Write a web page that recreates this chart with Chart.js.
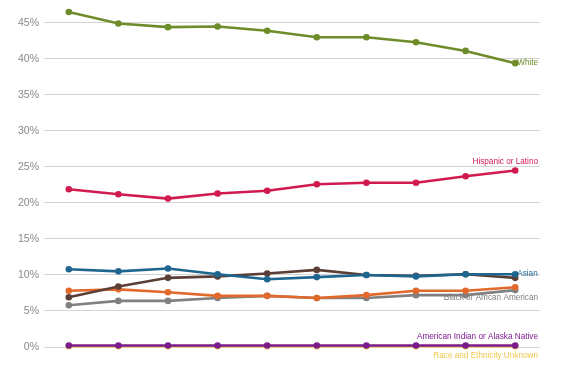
<!DOCTYPE html>
<html>
<head>
<meta charset="utf-8">
<script src="https://cdn.jsdelivr.net/npm/chart.js@4"></script>
<style>
  html, body { margin: 0; padding: 0; background: #fff; }
  #wrap { width: 568px; height: 365px; }
</style>
</head>
<body>
<div id="wrap"><canvas id="raceChart"></canvas></div>
<script>
// Ten yearly points, no axis labels shown
const years = ['2005', '2006', '2007', '2008', '2009', '2010', '2011', '2012', '2013', '2014'];

const white = [46.5, 44.9, 44.4, 44.5, 43.9, 43.0, 43.0, 42.3, 41.1, 39.4];
const hispanic = [21.9, 21.2, 20.6, 21.3, 21.7, 22.6, 22.8, 22.8, 23.7, 24.5];
const asian = [10.8, 10.5, 10.9, 10.1, 9.4, 9.7, 10.0, 9.8, 10.1, 10.1];
const twoOrMore = [6.9, 8.4, 9.6, 9.8, 10.2, 10.7, 10.0, 9.9, 10.1, 9.6];
const nonresident = [7.8, 8.0, 7.6, 7.1, 7.1, 6.8, 7.2, 7.8, 7.8, 8.3];
const black = [5.8, 6.4, 6.4, 6.8, 7.1, 6.8, 6.8, 7.2, 7.2, 7.9];
const amIndian = [0.2, 0.2, 0.2, 0.2, 0.2, 0.2, 0.2, 0.2, 0.2, 0.2];
const unknown = [0.1, 0.1, 0.1, 0.1, 0.1, 0.1, 0.1, 0.1, 0.1, 0.1];

function line(label, data, color, endLabel) {
    return {
        label: label,
        data: data,
        borderColor: color,
        backgroundColor: color,
        borderWidth: 2.6,
        pointRadius: 2,
        pointHoverRadius: 2,
        tension: 0,
        clip: false,
        endLabel: endLabel
    };
}

// end-of-line captions
const endLabels = {
    id: 'endLabels',
    afterDatasetsDraw(chart) {
        const ctx = chart.ctx;
        const right = chart.chartArea.right;
        ctx.save();
        ctx.font = '8.2px "Liberation Sans", Arial, sans-serif';
        ctx.textBaseline = 'middle';
        chart.data.datasets.forEach((ds, i) => {
            const el = ds.endLabel;
            if (!el) return;
            const pts = chart.getDatasetMeta(i).data;
            const last = pts[pts.length - 1];
            ctx.fillStyle = el.color || ds.borderColor;
            if (el.align === 'left') {
                ctx.textAlign = 'left';
                ctx.fillText(ds.label, last.x + 2, last.y + el.dy);
            } else {
                ctx.textAlign = 'right';
                ctx.fillText(ds.label, right - 2, last.y + el.dy);
            }
        });
        ctx.restore();
    }
};

// lower index draws on top
new Chart(document.getElementById('raceChart'), {
    type: 'line',
    data: {
        labels: years,
        datasets: [
            line('White', white, '#6f8c2a', { align: 'left', dy: 0 }),
            line('Hispanic or Latino', hispanic, '#d01a50', { dy: -9 }),
            line('Asian', asian, '#1e6690', { align: 'left', dy: 0 }),
            line('Two or More Races', twoOrMore, '#5b3f37', null),
            line('Nonresident Alien', nonresident, '#e2692c', null),
            line('Black or African American', black, '#808080', { dy: 8 }),
            line('American Indian or Alaska Native', amIndian, '#7b1c8c', { dy: -9 }),
            line('Race and Ethnicity Unknown', unknown, '#f2c84b', { dy: 9 })
        ]
    },
    options: {
        responsive: true,
        maintainAspectRatio: false,
        animation: false,
        layout: { padding: { top: 0, right: 28, bottom: 10, left: 0 } },
        plugins: {
            legend: { display: false },
            tooltip: { enabled: false }
        },
        scales: {
            x: {
                offset: true,
                grid: { display: false },
                border: { display: false },
                ticks: { display: false }
            },
            y: {
                min: 0,
                max: 46.6,
                afterFit(scale) { scale.width = 44; },
                afterBuildTicks(scale) {
                    scale.ticks = scale.ticks.filter(t => t.value % 5 === 0);
                },
                grid: { color: '#d4d4d4', drawTicks: false, lineWidth: 1 },
                border: { display: false },
                ticks: {
                    stepSize: 5,
                    includeBounds: false,
                    autoSkip: false,
                    padding: 5,
                    color: '#8a8a8a',
                    font: { family: '"Liberation Sans", Arial, sans-serif', size: 10.5 },
                    callback: v => v + '%'
                }
            }
        }
    },
    plugins: [endLabels]
});
</script>
</body>
</html>
